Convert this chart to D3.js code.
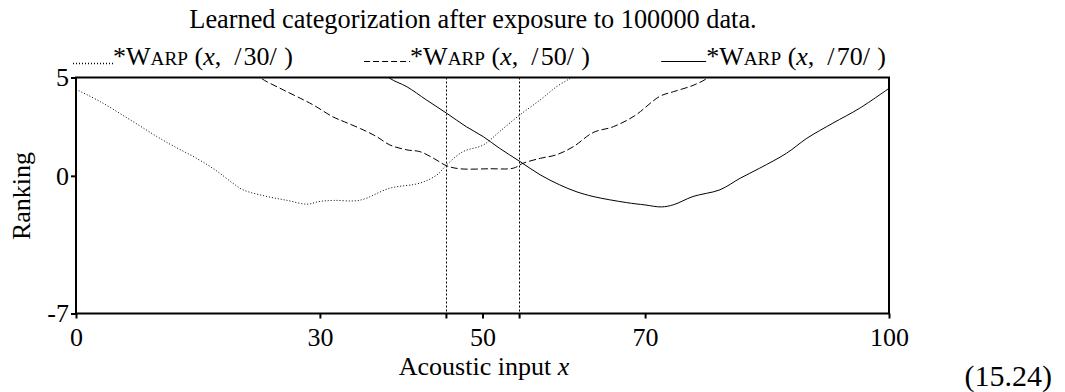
<!DOCTYPE html>
<html>
<head>
<meta charset="utf-8">
<script src="https://cdn.jsdelivr.net/npm/d3@7"></script>
<style>
  html, body { margin: 0; padding: 0; background: #fff; }
  svg { display: block; }
  text { font-family: "Liberation Serif", "Times New Roman", serif; fill: #000; }
</style>
</head>
<body>
<svg id="chart" width="1065" height="392"></svg>
<script>
// ---- data ----
const titleText = "Learned categorization after exposure to 100000 data.";
const xLabelMain = "Acoustic input ";
const xLabelVar = "x";
const yLabel = "Ranking";
const eqNumber = "(15.24)";

const xTickValues = [0, 30, 45.5, 50, 54.5, 70, 100];
const xTickLabels = ["0", "30", "", "50", "", "70", "100"];
const yTickValues = [5, 0, -7];
const yTickLabels = ["5", "0", "-7"];
const boundaries = [45.5, 54.5];

const seriesNames = ["30", "50", "70"];

const x30 = [0, 3, 7, 11, 15, 17.3, 19.3, 20.6, 23.5, 26, 28.4, 30, 31.7, 34.9, 38.6, 42.3, 44.4, 45.6, 47.6, 50.1, 52.1, 54.6, 57.1, 59.1, 60.8, 62];
const y30 = [4.4, 3.77, 2.76, 1.74, 0.85, 0.25, -0.38, -0.72, -1.05, -1.25, -1.44, -1.30, -1.25, -1.24, -0.63, -0.37, 0.05, 0.56, 1.23, 1.57, 2.25, 3.10, 3.86, 4.53, 4.96, 5.3];

const x50 = [22, 22.8, 25.5, 28.0, 29.2, 31.6, 33, 35, 37, 38.6, 40.7, 42.3, 44, 45.6, 47.2, 50.9, 53.8, 55, 57.1, 59.1, 61.2, 63.6, 66.1, 68.7, 71.8, 73.5, 75.9, 77.6, 78.3];
const y50 = [5.3, 4.96, 4.37, 3.86, 3.60, 3.0, 2.75, 2.4, 1.99, 1.57, 1.32, 1.23, 0.89, 0.51, 0.36, 0.36, 0.39, 0.64, 0.89, 1.07, 1.49, 2.2, 2.5, 3.05, 4.04, 4.28, 4.6, 4.96, 5.3];

const x70 = [37.5, 38.6, 40.7, 43.1, 45.6, 48, 50.1, 52.1, 54.6, 57.1, 59.5, 61.5, 63.6, 67.7, 70, 72, 73.5, 75.9, 79.2, 81.7, 84.1, 87.4, 89.9, 93.1, 96.4, 100];
const y70 = [5.4, 4.96, 4.53, 3.86, 3.18, 2.5, 1.99, 1.40, 0.73, 0.05, -0.46, -0.8, -1.05, -1.36, -1.48, -1.58, -1.47, -1.05, -0.71, -0.12, 0.39, 1.15, 1.91, 2.68, 3.44, 4.45];

// ---- layout / style ----
const plot = { left: 76, right: 889, top: 77.5, bottom: 313.5 };
const fontSize = 26;
const dashes = ["1,2", "7,3", null];

const svg = d3.select("#chart");
const xScale = d3.scaleLinear().domain([0, 100]).range([plot.left, plot.right]);
const yScale = d3.scaleLinear().domain([-7, 5]).range([plot.bottom, plot.top]);

svg.append("clipPath").attr("id", "clip")
  .append("rect")
  .attr("x", plot.left).attr("y", plot.top)
  .attr("width", plot.right - plot.left).attr("height", plot.bottom - plot.top);

// boundary lines
svg.append("g").selectAll("line").data(boundaries).join("line")
  .attr("x1", d => Math.round(xScale(d)) + 0.5).attr("x2", d => Math.round(xScale(d)) + 0.5)
  .attr("y1", plot.top).attr("y2", plot.bottom)
  .attr("stroke", "#000").attr("stroke-width", 1).attr("stroke-dasharray", "2,2");

// curves
const series = [
  { xs: x30, ys: y30 },
  { xs: x50, ys: y50 },
  { xs: x70, ys: y70 }
];
const line = d3.line()
  .x(d => xScale(d[0])).y(d => yScale(d[1]))
  .curve(d3.curveCatmullRom.alpha(0.5));

svg.append("g").attr("clip-path", "url(#clip)")
  .selectAll("path").data(series).join("path")
  .attr("d", s => line(s.xs.map((v, i) => [v, s.ys[i]])))
  .attr("fill", "none").attr("stroke", "#000").attr("stroke-width", 1)
  .attr("stroke-dasharray", (s, i) => dashes[i]);

// axes
const xAxis = d3.axisBottom(xScale).tickValues(xTickValues)
  .tickFormat((d, i) => xTickLabels[i]).tickSize(5).tickPadding(9);
const gx = svg.append("g").attr("transform", `translate(0,${plot.bottom})`).call(xAxis);
gx.select(".domain").remove();
gx.selectAll(".tick line").attr("stroke-width", 2);
gx.selectAll(".tick text").attr("font-size", fontSize).attr("font-family", "Liberation Serif, serif");

const yAxis = d3.axisLeft(yScale).tickValues(yTickValues)
  .tickFormat((d, i) => yTickLabels[i]).tickSize(5).tickPadding(2);
const gy = svg.append("g").attr("transform", `translate(${plot.left},0)`).call(yAxis);
gy.select(".domain").remove();
gy.selectAll(".tick line").attr("stroke-width", 2);
gy.selectAll(".tick text").attr("font-size", fontSize).attr("font-family", "Liberation Serif, serif");

// frame
svg.append("rect")
  .attr("x", plot.left).attr("y", plot.top)
  .attr("width", plot.right - plot.left).attr("height", plot.bottom - plot.top)
  .attr("fill", "none").attr("stroke", "#000").attr("stroke-width", 2);

// title
svg.append("text").attr("x", 473).attr("y", 28)
  .attr("text-anchor", "middle").attr("font-size", 26.3).text(titleText);

// legend
const legendY = 65;
const legendFont = 26;
const leaderLen = [40, 46, 45];
const items = [];
seriesNames.forEach((name, i) => {
  const g = svg.append("g");
  const ly = i === 0 ? legendY - 1.5 : legendY - 3.5;
  g.append("line").attr("x1", 0).attr("x2", leaderLen[i])
    .attr("y1", ly).attr("y2", ly)
    .attr("stroke", "#000").attr("stroke-width", i === 0 ? 1.3 : 1)
    .attr("stroke-dasharray", i === 0 ? "1,2" : (i === 1 ? "6,3" : null));
  const t = g.append("text").attr("x", leaderLen[i]).attr("y", legendY).attr("font-size", legendFont);
  t.append("tspan").text("*W");
  t.append("tspan").attr("font-size", legendFont * 0.74).text("ARP");
  t.append("tspan").text(" (");
  t.append("tspan").attr("font-style", "italic").text("x");
  t.append("tspan").text(",\u2002/\u200a" + name + "/\u2009\u200a)");
  items.push({ g, w: leaderLen[i] + t.node().getComputedTextLength() });
});
const total = d3.sum(items, d => d.w);
const gap = ((plot.right - plot.left) - total) / (items.length - 1);
let cx = plot.left - 3;
items.forEach(it => { it.g.attr("transform", `translate(${cx},0)`); cx += it.w + gap; });

// axis labels
const xl = svg.append("text").attr("x", 484).attr("y", 375)
  .attr("text-anchor", "middle").attr("font-size", fontSize);
xl.append("tspan").text(xLabelMain);
xl.append("tspan").attr("font-style", "italic").text(xLabelVar);

svg.append("text").attr("transform", "translate(30,196) rotate(-90)")
  .attr("text-anchor", "middle").attr("font-size", fontSize).text(yLabel);

svg.append("text").attr("x", 1052).attr("y", 386)
  .attr("text-anchor", "end").attr("font-size", 30).text(eqNumber);
</script>
</body>
</html>
